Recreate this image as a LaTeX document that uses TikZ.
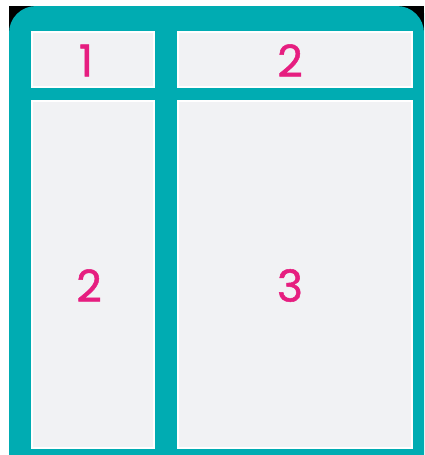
\documentclass[tikz,border=0pt]{standalone}
\usepackage{fontspec}
\setmainfont{Poppins}
\newfontfamily\numfont[FakeBold=1.2]{Poppins}
\usepackage{xcolor}
\usetikzlibrary{positioning}
\definecolor{frameteal}{RGB}{0,172,178}
\definecolor{cellgray}{RGB}{241,242,244}
\definecolor{numpink}{RGB}{230,30,128}
\tikzset{
  cellbox/.style={
    draw=white,line width=1.5pt,fill=cellgray,inner sep=0pt,anchor=north west
  },
  smallcell/.style={cellbox,minimum width=122pt},
  widecell/.style={cellbox,minimum width=234pt},
  numlabel/.style={text=numpink,inner sep=0pt,font=\numfont\fontsize{44}{44}\selectfont}
}

\begin{document}
\begin{tikzpicture}[x=1pt,y=-1pt]
  \useasboundingbox (0,0) rectangle (424,455);
  \fill[white] (0,0) rectangle (424,455);
  % dark corners behind the rounded frame
  \fill[black] (9,6) rectangle (36,34);
  \fill[black] (399,6) rectangle (424,32);
  \fill[frameteal,rounded corners=27pt] (9,455) -- (9,6) -- (424,6) -- (424,40)
    [sharp corners] -- (424,455) -- cycle;
  % grid cells
  \node[smallcell,minimum height=55pt] (cellA) at (31,31) {};
  \node[widecell,minimum height=55pt] (cellB) at (177,31) {};
  \node[smallcell,minimum height=347pt] (cellC) at (31,100) {};
  \node[widecell,minimum height=347pt] (cellD) at (177,100) {};
  % numbers
  \node[numlabel] (numA) at (86,60.5) {1};
  \node[numlabel] (numB) at (290,60.5) {2};
  \node[numlabel] (numC) at (89,285.5) {2};
  \node[numlabel] (numD) at (290,285.5) {3};
\end{tikzpicture}
\end{document}
